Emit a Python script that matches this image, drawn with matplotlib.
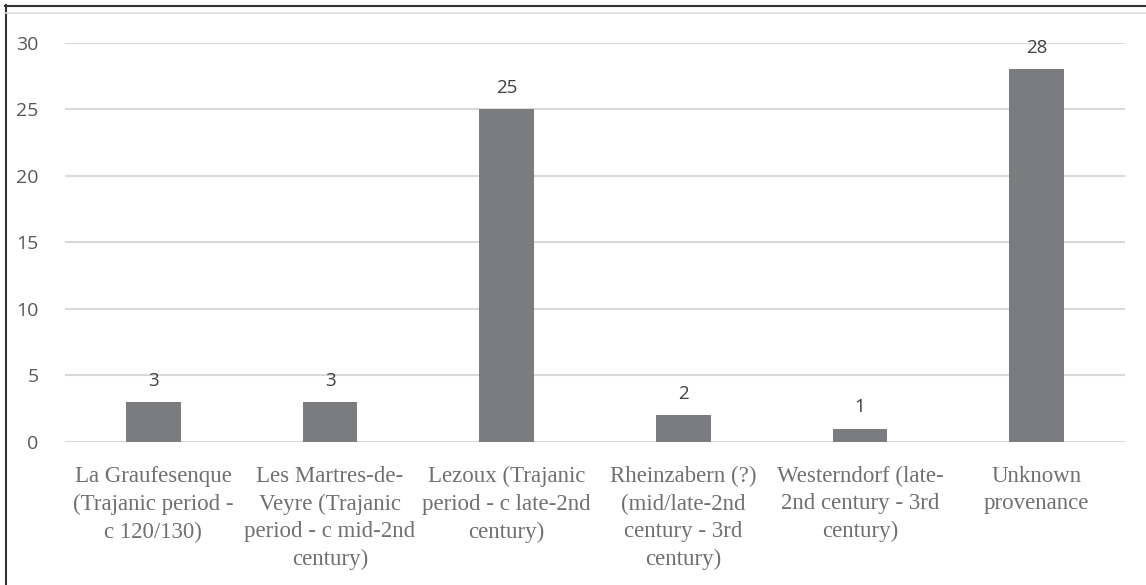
import matplotlib.pyplot as plt
from matplotlib.lines import Line2D

# Data
sites = [
    "La Graufesenque\n(Trajanic period -\nc 120/130)",
    "Les Martres-de-\nVeyre (Trajanic\nperiod - c mid-2nd\ncentury)",
    "Lezoux (Trajanic\nperiod - c late-2nd\ncentury)",
    "Rheinzabern (?)\n(mid/late-2nd\ncentury - 3rd\ncentury)",
    "Westerndorf (late-\n2nd century - 3rd\ncentury)",
    "Unknown\nprovenance",
]
counts = [3, 3, 25, 2, 1, 28]
y_ticks = [0, 5, 10, 15, 20, 25, 30]

fig = plt.figure(figsize=(11.46, 5.85), dpi=100)
ax = fig.add_axes([65 / 1146, 1 - 442 / 585, 1060 / 1146, 399.5 / 585])

x = list(range(len(sites)))
ax.bar(x, counts, width=0.31, color="#7b7c80", zorder=3)

for xi, c in zip(x, counts):
    ax.annotate(str(c), (xi, c), xytext=(0, 9), textcoords="offset points",
                ha="center", va="bottom", fontsize=13.5, family="Open Sans",
                color="#404040")

ax.set_xlim(-0.5, len(sites) - 0.5)
ax.set_ylim(0, 30)
ax.set_yticks(y_ticks)
ax.set_xticks(x)
ax.set_xticklabels(sites, family="Liberation Serif", fontsize=16.5,
                   color="#707070", linespacing=1.42)
ax.tick_params(axis="x", length=0, pad=17)
ax.tick_params(axis="y", length=0, pad=19, labelsize=14, labelcolor="#595959")
for lab in ax.get_yticklabels():
    lab.set_family("Open Sans")

ax.grid(axis="y", color="#d9d9d9", linewidth=1.5, zorder=0)
ax.set_axisbelow(True)
for s in ax.spines.values():
    s.set_visible(False)

# frame lines around the picture
fig.add_artist(Line2D([5 / 1146, 1], [1 - 5.5 / 585] * 2, color="#333333", lw=1.5))
fig.add_artist(Line2D([5.5 / 1146] * 2, [0, 1 - 5 / 585], color="#333333", lw=1.5))
fig.add_artist(Line2D([6 / 1146, 1], [1 - 13 / 585] * 2, color="#dddddd", lw=1.2))

fig.savefig("out.png", dpi=100)
